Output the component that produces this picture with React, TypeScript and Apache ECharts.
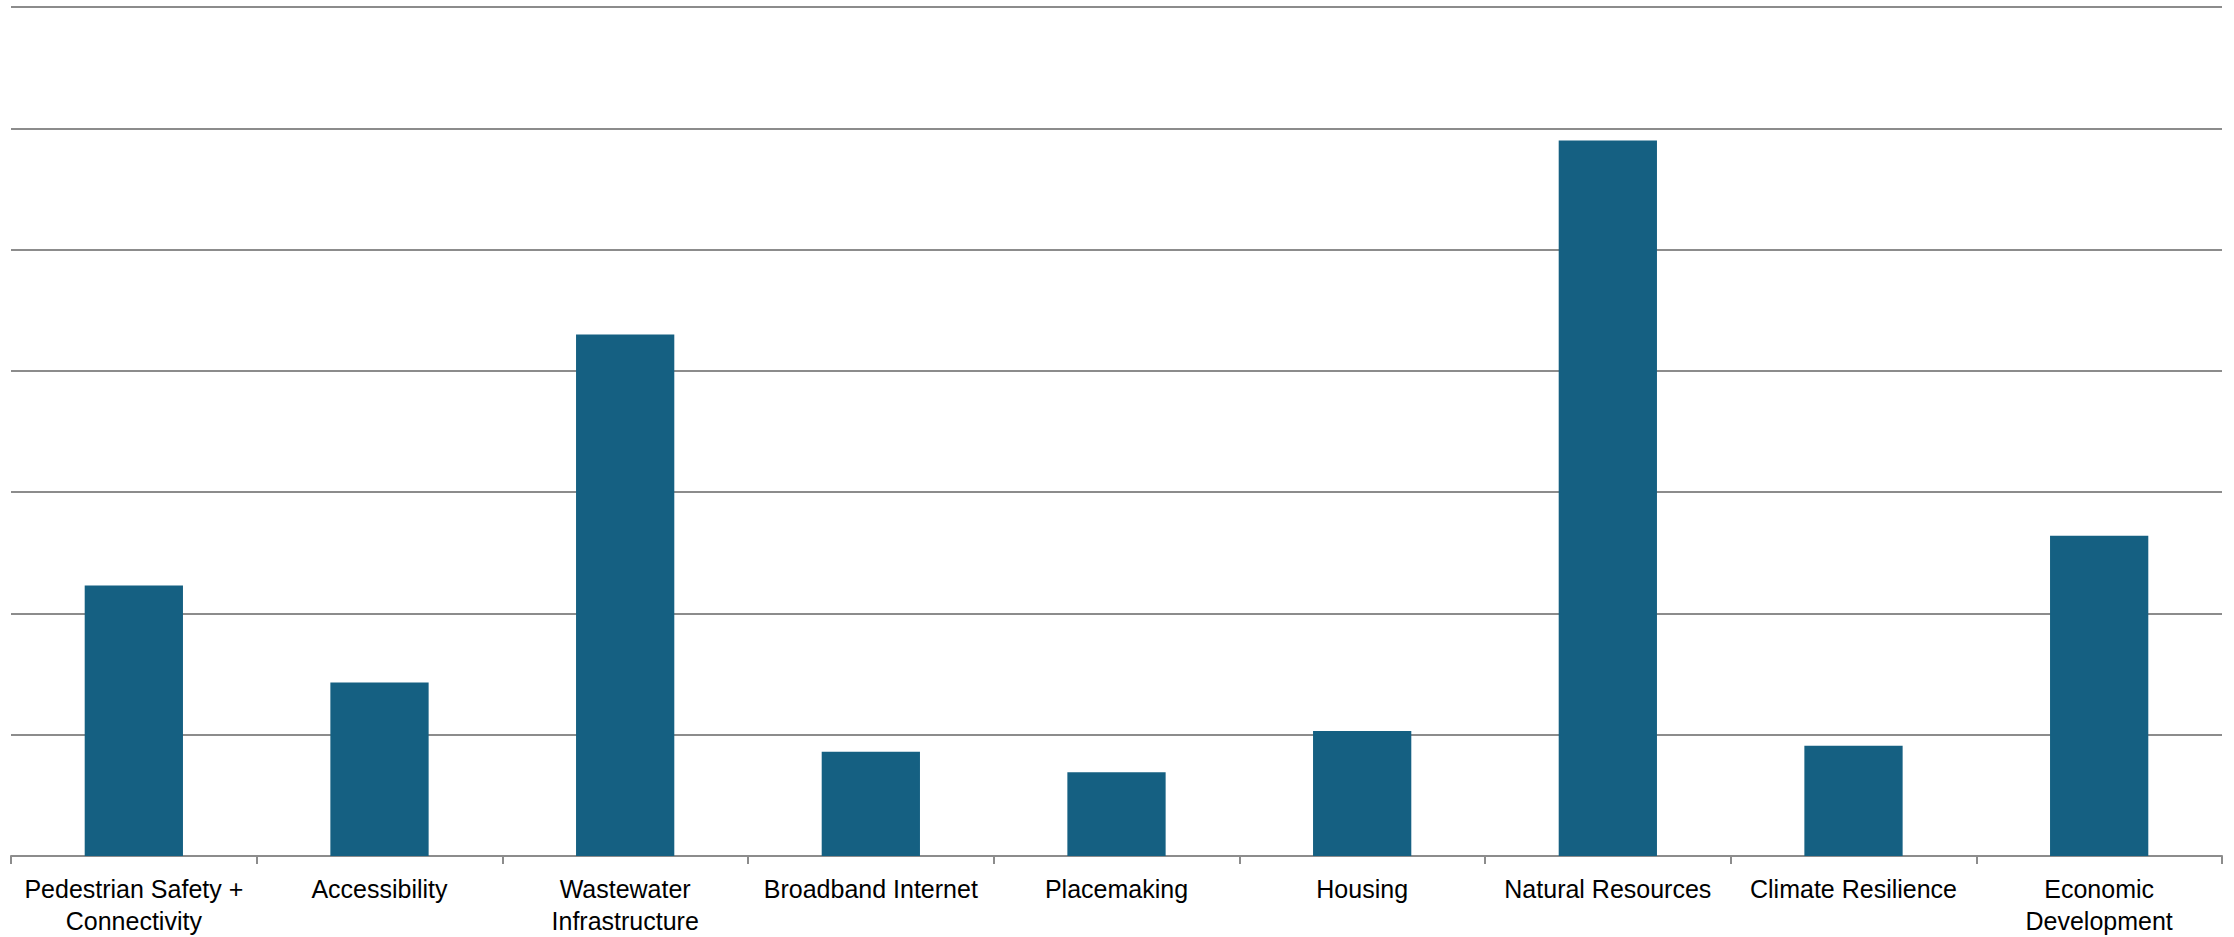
import React, { useEffect, useRef } from "react";
import * as echarts from "echarts";

const categories = [
  "Pedestrian Safety + Connectivity",
  "Accessibility",
  "Wastewater Infrastructure",
  "Broadband Internet",
  "Placemaking",
  "Housing",
  "Natural Resources",
  "Climate Resilience",
  "Economic Development",
];

const values = [22.3, 14.3, 43.0, 8.6, 6.9, 10.3, 59.0, 9.1, 26.4];

const wrappedLabels: Record<string, string> = {
  "Pedestrian Safety + Connectivity": "Pedestrian Safety +\nConnectivity",
  "Wastewater Infrastructure": "Wastewater\nInfrastructure",
  "Economic Development": "Economic\nDevelopment",
};

const yMin = 0;
const yMax = 70;
const yInterval = 10;

export default function App() {
  const ref = useRef<HTMLDivElement>(null);

  useEffect(() => {
    if (!ref.current) return;
    const chart = echarts.init(ref.current, undefined, { renderer: "svg" });
    chart.setOption({
      animation: false,
      backgroundColor: "#ffffff",
      grid: { left: 11, right: 12, top: 7, bottom: 81, containLabel: false },
      xAxis: {
        type: "category",
        data: categories,
        axisLine: { show: true, lineStyle: { color: "#8c8c8c", width: 2 } },
        axisTick: { show: true, length: 8, lineStyle: { color: "#8c8c8c", width: 2 } },
        axisLabel: {
          interval: 0,
          margin: 17,
          color: "#000000",
          fontFamily: "Liberation Sans, Arial, sans-serif",
          fontSize: 25,
          lineHeight: 32,
          formatter: (v: string) => wrappedLabels[v] ?? v,
        },
      },
      yAxis: {
        type: "value",
        min: yMin,
        max: yMax,
        interval: yInterval,
        axisLabel: { show: false },
        axisLine: { show: false },
        axisTick: { show: false },
        splitLine: { show: true, lineStyle: { color: "#8c8c8c", width: 1.8 } },
      },
      series: [
        {
          type: "bar",
          data: values,
          barWidth: "40%",
          itemStyle: { color: "#156082" },
        },
      ],
    });
    return () => chart.dispose();
  }, []);

  return (
    <div
      ref={ref}
      style={{ position: "fixed", left: 0, top: 0, width: 2234, height: 937, background: "#fff" }}
    />
  );
}
